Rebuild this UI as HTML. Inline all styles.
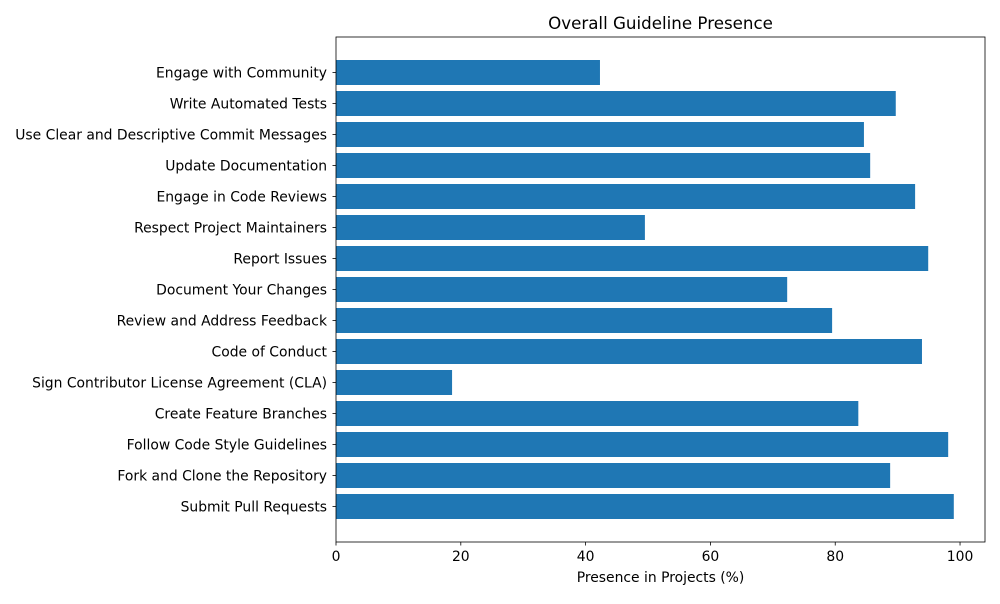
<!DOCTYPE html>
<html><head><meta charset="utf-8"><style>
body{margin:0;background:#fff;font-family:"DejaVu Sans","Liberation Sans",sans-serif;}
</style></head><body>
<svg id="chart" width="1000" height="600" xmlns="http://www.w3.org/2000/svg" font-family="DejaVu Sans, sans-serif"></svg>
<script>
const categories=["Engage with Community","Write Automated Tests","Use Clear and Descriptive Commit Messages","Update Documentation","Engage in Code Reviews","Respect Project Maintainers","Report Issues","Document Your Changes","Review and Address Feedback","Code of Conduct","Sign Contributor License Agreement (CLA)","Create Feature Branches","Follow Code Style Guidelines","Fork and Clone the Repository","Submit Pull Requests"];
const values=[42.3,89.7,84.6,85.6,92.8,49.5,94.9,72.3,79.5,93.9,18.6,83.7,98.1,88.8,99.0];
const xTicks=[0,20,40,60,80,100];
const NS="http://www.w3.org/2000/svg";
const svg=document.getElementById('chart');
const L=336,R=985,T=37,B=542,xMax=104;
const x=v=>L+v/xMax*(R-L);
const step=31, y0=72.5;
const y=i=>y0+i*step;
function mk(tag,attrs,text){const e=document.createElementNS(NS,tag);for(const k in attrs)e.setAttribute(k,attrs[k]);if(text!==undefined)e.textContent=text;svg.appendChild(e);return e;}
categories.forEach((c,i)=>{
  const r=mk('rect',{x:L,y:y(i)-12.5,width:x(values[i])-L,height:25,fill:'#1f77b4'});
  
  
  mk('line',{x1:L-3.5,x2:L,y1:y(i),y2:y(i),stroke:'#000','stroke-width':0.8});
  const t=mk('text',{x:L-9,y:y(i)+5,'text-anchor':'end','font-size':13.9,fill:'#000'},c);
  
  
});
xTicks.forEach(v=>{
  mk('line',{x1:x(v),x2:x(v),y1:B,y2:B+3.5,stroke:'#000','stroke-width':0.8});
  const t=mk('text',{x:x(v),y:B+19,'text-anchor':'middle','font-size':13.9,fill:'#000'},v);
  
  
});
const f=mk('rect',{x:L,y:T,width:R-L,height:B-T,fill:'none',stroke:'#000','stroke-width':0.8});


const xt=mk('text',{x:(L+R)/2,y:582,'text-anchor':'middle','font-size':13.9,fill:'#000'},'Presence in Projects (%)');


const tt=mk('text',{x:(L+R)/2,y:29,'text-anchor':'middle','font-size':16.7,fill:'#000'},'Overall Guideline Presence');


</script>
</body></html>
